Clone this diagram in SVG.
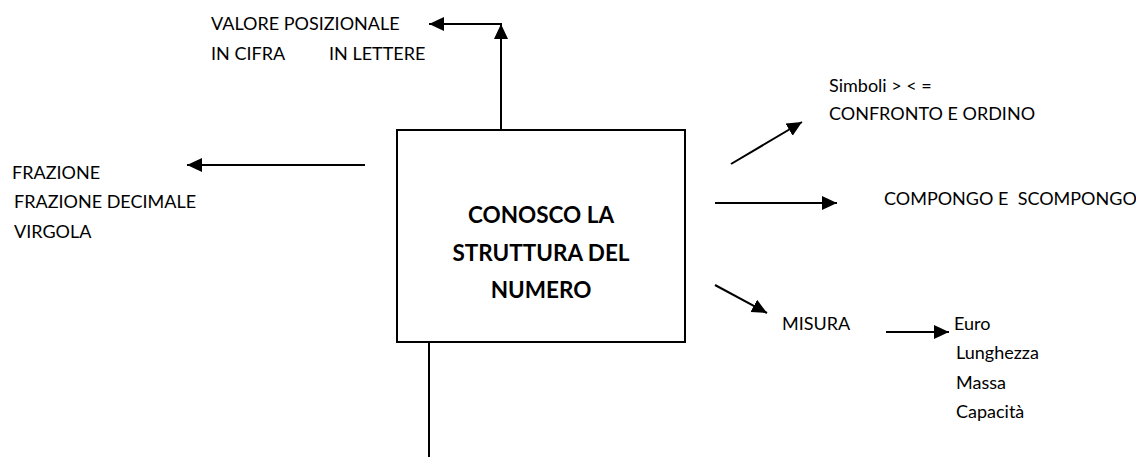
<svg xmlns="http://www.w3.org/2000/svg" width="1136" height="457" viewBox="0 0 1136 457">
  <style>
    .t { font-family: Lato, "Liberation Sans", sans-serif; font-size: 18px; fill: #000; }
    .b { font-family: Lato, "Liberation Sans", sans-serif; font-size: 22.5px; font-weight: bold; fill: #000; text-anchor: middle; }
    .ln { stroke: #000; stroke-width: 2; fill: none; }
  </style>
  <defs>
    <marker id="arrow" markerUnits="userSpaceOnUse" markerWidth="16" markerHeight="15" refX="15" refY="7" orient="auto">
      <path d="M0,0 L15,7 L0,14 z" fill="#000"/>
    </marker>
  </defs>

  <!-- central node -->
  <g id="node-struttura">
    <rect x="397" y="130" width="288" height="212" fill="#fff" stroke="#000" stroke-width="2"/>
    <text class="b" x="541" y="223">CONOSCO LA</text>
    <text class="b" x="541" y="261">STRUTTURA DEL</text>
    <text class="b" x="541" y="298">NUMERO</text>
  </g>

  <!-- connectors -->
  <g id="connectors">
    <line class="ln" x1="501" y1="130" x2="501" y2="24" marker-end="url(#arrow)"/>
    <line class="ln" x1="502" y1="24" x2="429" y2="24" marker-end="url(#arrow)"/>
    <line class="ln" x1="365" y1="165" x2="187" y2="165" marker-end="url(#arrow)"/>
    <line class="ln" x1="731" y1="164" x2="802" y2="122" marker-end="url(#arrow)"/>
    <line class="ln" x1="715" y1="203" x2="837" y2="203" marker-end="url(#arrow)"/>
    <line class="ln" x1="715" y1="285" x2="767" y2="313" marker-end="url(#arrow)"/>
    <line class="ln" x1="886" y1="332" x2="949" y2="332" marker-end="url(#arrow)"/>
    <line class="ln" x1="429" y1="342" x2="429" y2="457"/>
  </g>

  <g id="node-valore">
    <text class="t" x="211" y="30">VALORE POSIZIONALE</text>
    <text class="t" x="211" y="60">IN CIFRA</text>
    <text class="t" x="329" y="60">IN LETTERE</text>
  </g>

  <g id="node-frazione">
    <text class="t" x="12" y="179">FRAZIONE</text>
    <text class="t" x="14" y="208">FRAZIONE DECIMALE</text>
    <text class="t" x="14" y="238">VIRGOLA</text>
  </g>

  <g id="node-confronto">
    <text class="t" x="829" y="92">Simboli &gt; &lt; =</text>
    <text class="t" x="829" y="120">CONFRONTO E ORDINO</text>
  </g>

  <g id="node-compongo">
    <text class="t" x="884" y="205" xml:space="preserve">COMPONGO E  SCOMPONGO</text>
  </g>

  <g id="node-misura">
    <text class="t" x="782" y="330">MISURA</text>
  </g>

  <g id="node-unita">
    <text class="t" x="954" y="330">Euro</text>
    <text class="t" x="956" y="359">Lunghezza</text>
    <text class="t" x="956" y="389">Massa</text>
    <text class="t" x="956" y="418">Capacità</text>
  </g>
</svg>
